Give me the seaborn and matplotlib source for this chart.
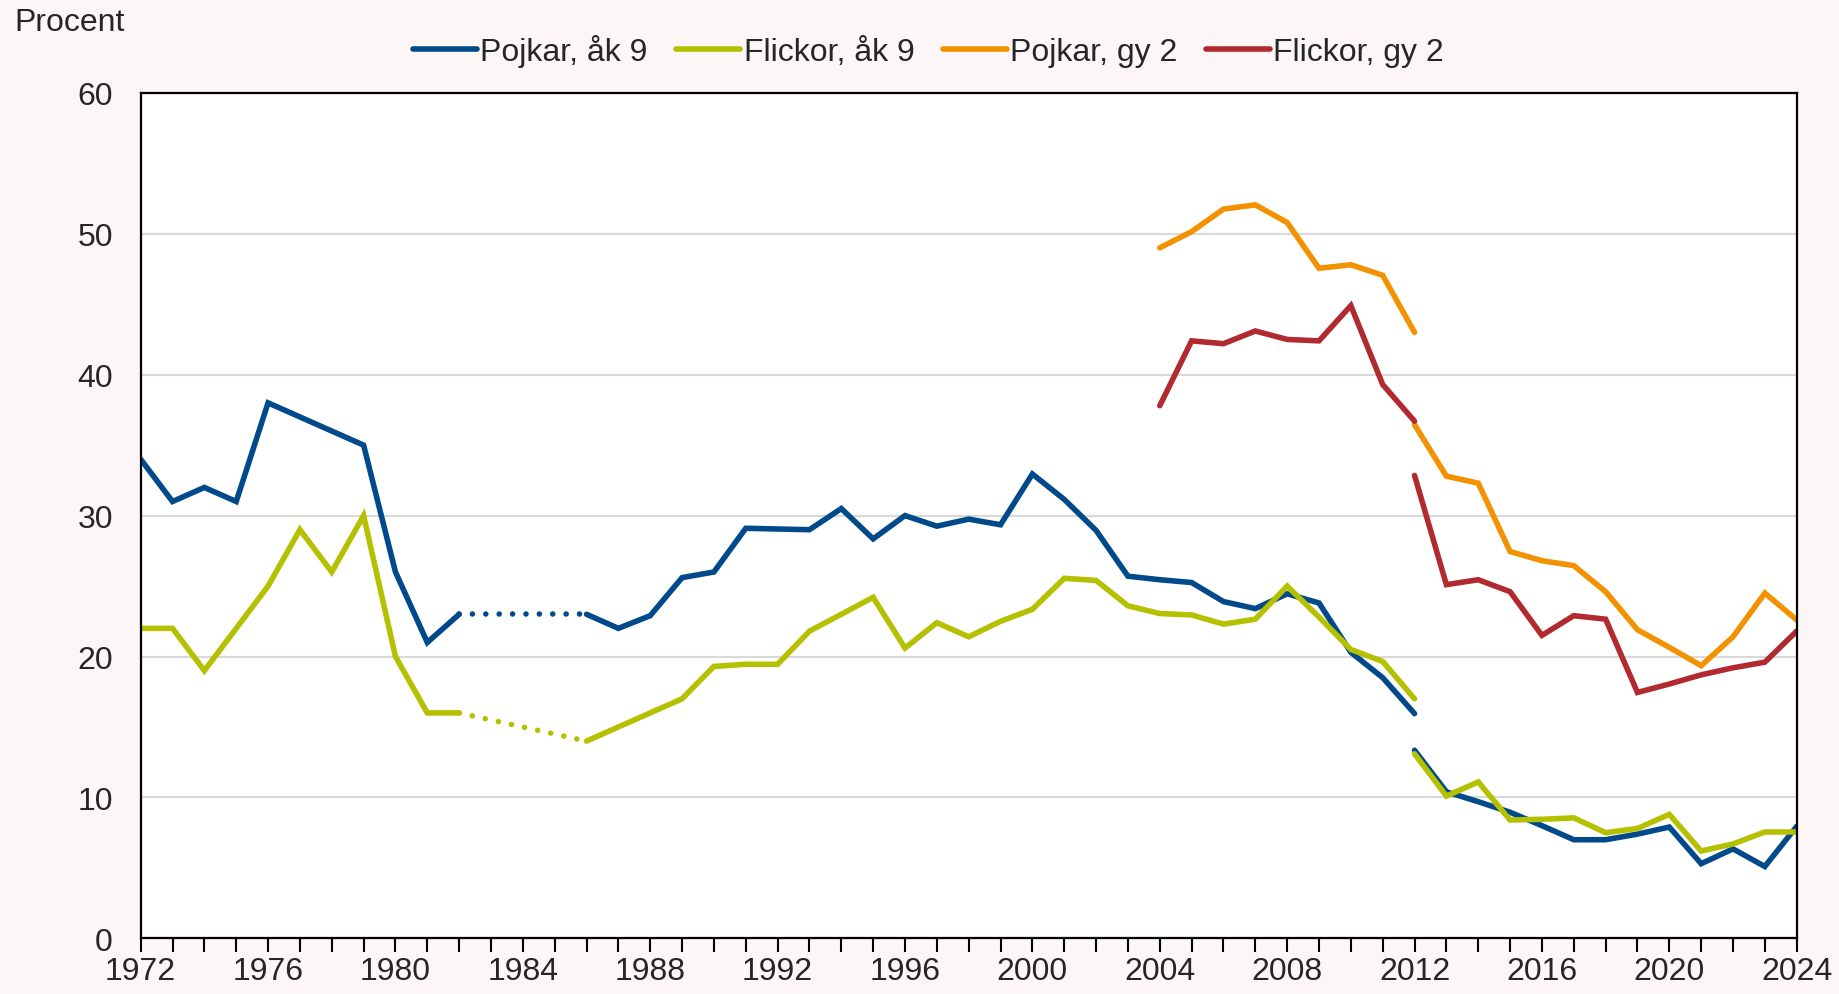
import numpy as np
import pandas as pd
import matplotlib.pyplot as plt
import seaborn as sns
from matplotlib.lines import Line2D

# Years and values
years_old = list(range(1972, 2013))
years_new = list(range(2012, 2025))
years_gy_old = list(range(2004, 2013))

# Pojkar, åk 9 (1983-1985 missing)
pojkar_ak9_old = [34, 31, 32, 31, 38, 37, 36, 35, 26, 21, 23,
                  np.nan, np.nan, np.nan,
                  23, 22, 22.9, 25.6, 26.0, 29.1, 29.05, 29.0, 30.5, 28.35, 30.0,
                  29.25, 29.75, 29.35, 32.95, 31.15, 28.95, 25.7, 25.45, 25.25,
                  23.9, 23.4, 24.45, 23.8, 20.3, 18.5, 15.95]
pojkar_ak9_new = [13.35, 10.4, 9.7, 8.95, 8.0, 7.0, 7.0, 7.4, 7.9, 5.3, 6.35, 5.1, 7.95]

# Flickor, åk 9 (1983-1985 missing)
flickor_ak9_old = [22, 22, 19, 22, 25, 29, 26, 30, 20, 16, 16,
                   np.nan, np.nan, np.nan,
                   14, 15, 16, 17, 19.3, 19.45, 19.45, 21.8, 23.0, 24.2, 20.6,
                   22.4, 21.4, 22.5, 23.35, 25.55, 25.4, 23.6, 23.05, 22.95,
                   22.3, 22.65, 25.0, 22.8, 20.5, 19.65, 17.0]
flickor_ak9_new = [13.1, 10.1, 11.1, 8.4, 8.45, 8.55, 7.5, 7.8, 8.8, 6.2, 6.7, 7.55, 7.55]

# Gymnasiet år 2
pojkar_gy2_old = [49.0, 50.15, 51.75, 52.05, 50.8, 47.55, 47.8, 47.05, 43.0]
pojkar_gy2_new = [36.45, 32.8, 32.3, 27.45, 26.8, 26.45, 24.6, 21.9, 20.65, 19.35, 21.4, 24.5, 22.6]
flickor_gy2_old = [37.8, 42.4, 42.2, 43.1, 42.5, 42.4, 44.9, 39.3, 36.7]
flickor_gy2_new = [32.85, 25.1, 25.45, 24.6, 21.5, 22.9, 22.65, 17.45, 18.05, 18.7, 19.2, 19.6, 21.8]

labels = ['Pojkar, åk 9', 'Flickor, åk 9', 'Pojkar, gy 2', 'Flickor, gy 2']
colors = ['#00498A', '#B5C000', '#F39200', '#B02A30']

sns.set_style('white')
plt.rcParams['font.family'] = ['Liberation Sans', 'DejaVu Sans']

bg = '#FCF6F6'
fig = plt.figure(figsize=(18.39, 9.95), dpi=100, facecolor=bg)
ax = fig.add_axes([0.0765, 0.0559, 0.9005, 0.8498])
ax.set_facecolor('white')

lw = 4.0

def draw(x, y, color):
    sns.lineplot(x=x, y=y, ax=ax, color=color, linewidth=lw, solid_capstyle='round',
                 solid_joinstyle='miter', estimator=None, sort=False)

# solid segments
for x, y, c in [(years_old, pojkar_ak9_old, colors[0]),
                (years_new, pojkar_ak9_new, colors[0]),
                (years_old, flickor_ak9_old, colors[1]),
                (years_new, flickor_ak9_new, colors[1]),
                (years_gy_old, pojkar_gy2_old, colors[2]),
                (years_new, pojkar_gy2_new, colors[2]),
                (years_gy_old, flickor_gy2_old, colors[3]),
                (years_new, flickor_gy2_new, colors[3])]:
    s = pd.Series(y, index=x)
    # split on missing values so the gap stays open
    grp = s.isna().cumsum()
    for _, part in s.dropna().groupby(grp[s.notna()]):
        draw(list(part.index), list(part.values), c)

# dotted bridge over the missing years 1983-1985
for y, c in [(pojkar_ak9_old, colors[0]), (flickor_ak9_old, colors[1])]:
    s = pd.Series(y, index=years_old)
    bridge = s.loc[[1982, 1986]]
    ax.plot(bridge.index, bridge.values, color=c, lw=lw,
            linestyle=(0, (0.01, 2.4)), dash_capstyle='round')

ax.set_xlim(1972, 2024)
ax.set_ylim(0, 60)
ax.set_yticks(range(0, 61, 10))
ax.set_xticks(range(1972, 2025))
ax.set_xticklabels([str(y) if (y - 1972) % 4 == 0 else '' for y in range(1972, 2025)])
ax.yaxis.grid(True, color='#D9D9D9', lw=1.5)
ax.set_axisbelow(True)
ax.tick_params(axis='x', direction='out', length=10, width=1.5, color='black',
               labelsize=23, pad=3, bottom=True)
ax.tick_params(axis='y', length=0, labelsize=23, pad=20)
for sp in ax.spines.values():
    sp.set_color('black')
    sp.set_linewidth(1.6)
ax.set_xlabel('')
ax.set_ylabel('')

fig.text(0.008, 0.977, 'Procent', fontsize=23, va='center', ha='left')

handles = [Line2D([0], [0], color=c, lw=lw, solid_capstyle='round') for c in colors]
fig.legend(handles, labels, loc='center', bbox_to_anchor=(0.505, 0.948), ncol=4,
           frameon=False, fontsize=23, handlelength=2.0, handletextpad=0.1,
           columnspacing=0.9)

fig.savefig('out.png', dpi=100, facecolor=bg)
